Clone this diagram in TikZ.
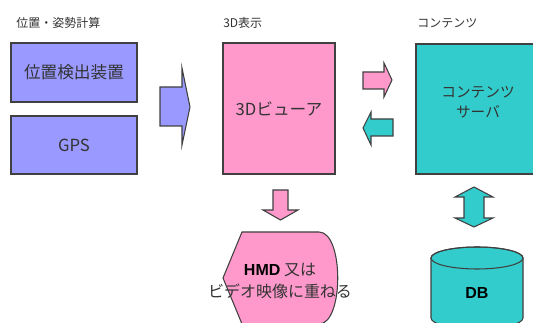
\documentclass[tikz,border=0pt]{standalone}
\usepackage{fontspec}
\setmainfont{Noto Sans CJK JP}
\newfontfamily\arialfont{Liberation Sans}
\usetikzlibrary{positioning}
\definecolor{posblue}{HTML}{9999FF}
\definecolor{viewpink}{HTML}{FF99CC}
\definecolor{srvteal}{HTML}{33CCCC}
\definecolor{edgegray}{HTML}{404040}
\definecolor{textgray}{HTML}{333333}
\begin{document}
\begin{tikzpicture}
[x=0.75pt,y=-0.75pt,
  boxdecorate/.style={shape=rectangle,draw=edgegray,line width=0.8pt,inner sep=0pt},%
  textdecorate/.style={text=textgray,align=center,inner sep=0pt,font=\fontsize{12.5}{15}\selectfont},%
  titledecorate/.style={anchor=west,inner sep=0pt,text=textgray,font=\fontsize{9}{11}\selectfont},%
  blockdecorate/.style={draw=edgegray,line width=0.8pt,line join=miter}]
\useasboundingbox (0,0) rectangle (533,323);
\clip (0,0) rectangle (533,323);
%% group titles
\node (postitle) at (16,23) [titledecorate] {位置・姿勢計算};
\node (viewtitle) at (223,23) [titledecorate] {3D表示};
\node (srvtitle) at (417,23) [titledecorate] {コンテンツ};
%% boxes
\node (detector) at (74,72.5) [boxdecorate,fill=posblue,minimum width=94.5pt,minimum height=44.25pt,textdecorate] {位置検出装置};
\node (gps) at (74,145) [boxdecorate,fill=posblue,minimum width=94.5pt,minimum height=43.5pt,textdecorate] {GPS};
\node (viewer) at (279,108.5) [boxdecorate,fill=viewpink,minimum width=84pt,minimum height=98.25pt,textdecorate] {3Dビューア};
\node (server) at (478,109) [boxdecorate,fill=srvteal,minimum width=93pt,minimum height=97.5pt] {};
\node (servertext) at (478,102) [textdecorate,font=\fontsize{11}{15}\selectfont] {コンテンツ\\サーバ};
%% block arrows
\draw[blockdecorate,fill=posblue] (160,87) -- (182,87) -- (182,68) -- (190,107)
  -- (182,145) -- (182,126) -- (160,126) -- cycle;
\draw[blockdecorate,fill=viewpink] (363,72) -- (384,72) -- (384,63) -- (392,80)
  -- (384,97) -- (384,89) -- (363,89) -- cycle;
\draw[blockdecorate,fill=srvteal] (393,119) -- (371,119) -- (371,112) -- (363,128)
  -- (371,145) -- (371,136) -- (393,136) -- cycle;
\draw[blockdecorate,fill=viewpink] (273,190) -- (288,190) -- (288,210) -- (298,210)
  -- (280.5,220) -- (263,210) -- (273,210) -- cycle;
\draw[blockdecorate,fill=srvteal] (464,197) -- (455,197) -- (474,187) -- (493,197)
  -- (484,197) -- (484,218) -- (493,218) -- (474,227) -- (455,218) -- (464,218) -- cycle;
%% display shape
\draw[blockdecorate,fill=viewpink] (242,232) -- (319,232)
  .. controls (344,232) and (344,324) .. (319,324) -- (242,324) -- (223,278) -- cycle;
\node (display) at (280,281) [textdecorate,font=\fontsize{12}{17}\selectfont]
  {{\arialfont\bfseries\color{black}HMD} 又は\\ビデオ映像に重ねる};
%% database
\draw[blockdecorate,fill=srvteal] (431,258) -- (431,318)
  arc[start angle=180,end angle=360,x radius=34.5pt,y radius=8.25pt] -- (523,258)
  arc[start angle=0,end angle=180,x radius=34.5pt,y radius=8.25pt] -- cycle;
\draw[blockdecorate] (477,258) ellipse [x radius=34.5pt,y radius=8.25pt];
\node (db) at (477,293) [inner sep=0pt,font=\arialfont\bfseries\fontsize{12}{14}\selectfont] {DB};
\end{tikzpicture}
\end{document}
